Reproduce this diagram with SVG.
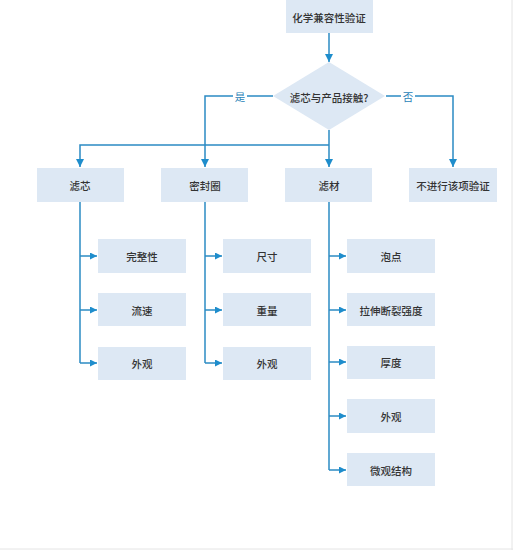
<svg xmlns="http://www.w3.org/2000/svg" width="513" height="550" viewBox="0 0 513 550">
<defs>
<style>
.box{fill:#dde8f4;}
.t{font-family:"Noto Sans CJK SC","Noto Sans",sans-serif;font-size:10.5px;fill:#333;text-anchor:middle;dominant-baseline:central;font-weight:500;}
.lbl{font-family:"Noto Sans CJK SC","Noto Sans",sans-serif;font-size:10.5px;fill:#2a7fb8;text-anchor:middle;dominant-baseline:central;}
.c{fill:none;stroke:#2b8bc3;stroke-width:1.5;}
</style>
<marker id="ah" viewBox="0 0 10 10" refX="10" refY="5" markerWidth="7" markerHeight="7" markerUnits="userSpaceOnUse" orient="auto">
<path d="M0,0 L10,5 L0,10 z" fill="#1e8dcc"/>
</marker>
<marker id="ah2" viewBox="0 0 10 10" refX="10" refY="5" markerWidth="8" markerHeight="8" markerUnits="userSpaceOnUse" orient="auto">
<path d="M0,0 L10,5 L0,10 z" fill="#1e8dcc"/>
</marker>
</defs>
<rect width="513" height="550" fill="#ffffff"/>
<line x1="512" y1="0" x2="512" y2="550" stroke="#e4e4e4" stroke-width="1"/>
<line x1="0" y1="549" x2="513" y2="549" stroke="#e4e4e4" stroke-width="1"/>

<g id="connectors">
<path class="c" d="M329,33 V62" marker-end="url(#ah2)"/>
<path class="c" d="M273,96 H205 V167" marker-end="url(#ah2)"/>
<path class="c" d="M386,96 H453 V167" marker-end="url(#ah2)"/>
<path class="c" d="M329,130 V167" marker-end="url(#ah2)"/>
<path class="c" d="M329,145 H80 V167" marker-end="url(#ah2)"/>
<rect x="233" y="89" width="14" height="14" fill="#fff"/>
<rect x="401" y="89" width="14" height="14" fill="#fff"/>
<text class="lbl" x="240" y="96">是</text>
<text class="lbl" x="408" y="96">否</text>

<path class="c" d="M80,202 V363"/>
<path class="c" d="M80,256 H97" marker-end="url(#ah)"/>
<path class="c" d="M80,310 H97" marker-end="url(#ah)"/>
<path class="c" d="M80,363 H97" marker-end="url(#ah)"/>

<path class="c" d="M205,202 V363"/>
<path class="c" d="M205,256 H222" marker-end="url(#ah)"/>
<path class="c" d="M205,310 H222" marker-end="url(#ah)"/>
<path class="c" d="M205,363 H222" marker-end="url(#ah)"/>

<path class="c" d="M329,202 V470"/>
<path class="c" d="M329,256 H346" marker-end="url(#ah)"/>
<path class="c" d="M329,310 H346" marker-end="url(#ah)"/>
<path class="c" d="M329,362 H346" marker-end="url(#ah)"/>
<path class="c" d="M329,416 H346" marker-end="url(#ah)"/>
<path class="c" d="M329,470 H346" marker-end="url(#ah)"/>
</g>

<g id="start"><rect class="box" x="286" y="0" width="87" height="33"/><text class="t" x="329" y="17">化学兼容性验证</text></g>
<g id="decision"><polygon class="box" points="329,62 385,96 329,130 273,96"/><text class="t" x="329" y="97">滤芯与产品接触?</text></g>

<g id="lvxin"><rect class="box" x="37" y="168" width="87" height="34"/><text class="t" x="80" y="185">滤芯</text></g>
<g id="mifengquan"><rect class="box" x="161" y="168" width="87" height="34"/><text class="t" x="205" y="185">密封圈</text></g>
<g id="lvcai"><rect class="box" x="285" y="168" width="87" height="34"/><text class="t" x="329" y="185">滤材</text></g>
<g id="no"><rect class="box" x="409" y="168" width="88" height="34"/><text class="t" x="453" y="185">不进行该项验证</text></g>

<g id="wanzhengxing"><rect class="box" x="98" y="239" width="88" height="34"/><text class="t" x="142" y="256">完整性</text></g>
<g id="liusu"><rect class="box" x="98" y="293" width="88" height="33"/><text class="t" x="142" y="310">流速</text></g>
<g id="waiguan1"><rect class="box" x="98" y="347" width="88" height="33"/><text class="t" x="142" y="363">外观</text></g>

<g id="chicun"><rect class="box" x="223" y="239" width="88" height="34"/><text class="t" x="267" y="256">尺寸</text></g>
<g id="zhongliang"><rect class="box" x="223" y="293" width="88" height="33"/><text class="t" x="267" y="310">重量</text></g>
<g id="waiguan2"><rect class="box" x="223" y="347" width="88" height="33"/><text class="t" x="267" y="363">外观</text></g>

<g id="paodian"><rect class="box" x="347" y="239" width="88" height="34"/><text class="t" x="391" y="256">泡点</text></g>
<g id="lashen"><rect class="box" x="347" y="293" width="88" height="33"/><text class="t" x="391" y="310">拉伸断裂强度</text></g>
<g id="houdu"><rect class="box" x="347" y="346" width="88" height="33"/><text class="t" x="391" y="362">厚度</text></g>
<g id="waiguan3"><rect class="box" x="347" y="399" width="88" height="34"/><text class="t" x="391" y="416">外观</text></g>
<g id="weiguan"><rect class="box" x="347" y="453" width="88" height="33"/><text class="t" x="391" y="470">微观结构</text></g>
</svg>
